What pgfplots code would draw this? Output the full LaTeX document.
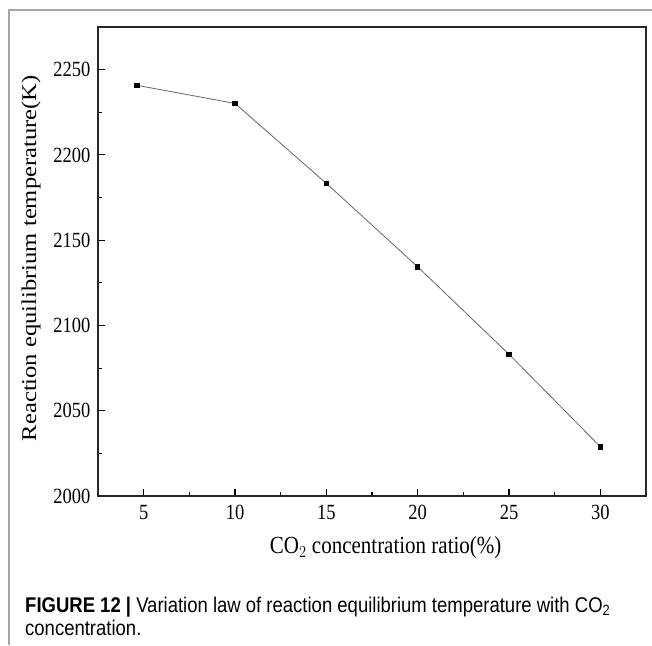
\documentclass[border=0pt]{standalone}
\usepackage{graphicx}
\usepackage{pgfplots}
\pgfplotsset{compat=1.18}
\usepackage{fontspec}
\setmainfont{Liberation Serif}
\newfontfamily\capfont{Liberation Sans}
\begin{document}
\begin{tikzpicture}
\useasboundingbox (0pt,0pt) rectangle (652pt,-645pt);
\draw[gray!70, line width=1.2pt] (9pt,-645pt) -- (9pt,-10pt) -- (652pt,-10pt);
\begin{axis}[
  at={(98pt,-496pt)}, anchor=origin,
  scale only axis, width=548pt, height=469pt,
  xmin=2.5, xmax=32.5, ymin=2000, ymax=2275,
  axis line style={line width=1.3pt, black!85},
  xtick={5,10,15,20,25,30},
  ytick={2000,2050,2100,2150,2200,2250},
  minor x tick num=1, minor y tick num=1,
  tick align=inside,
  xtick pos=bottom, ytick pos=left,
  major tick length=7pt, minor tick length=4pt,
  tick style={line width=1.1pt, black},
  /pgf/number format/assume math mode=true,
  /pgf/number format/1000 sep={},
  tick label style={font=\fontsize{18.5}{20}\selectfont},
  xticklabel={\scalebox{1}[1.17]{\pgfmathprintnumber{\tick}}},
  yticklabel={\scalebox{1}[1.17]{\pgfmathprintnumber{\tick}}},
  xticklabel style={yshift=-6pt},
  yticklabel style={xshift=-4pt},
  xlabel={\scalebox{1}[1.17]{CO$_2$ concentration ratio(\%)}},
  ylabel={\scalebox{1.17}[1]{Reaction equilibrium temperature(K)}},
  label style={font=\fontsize{21}{24}\selectfont},
  xlabel style={at={(axis description cs:0.525,-0.111)}, anchor=center},
  ylabel style={at={(axis description cs:-0.122,0.507)}, anchor=center},
]
\addplot[gray!80!black, line width=0.8pt, mark=square*, mark size=2.2pt,
  mark options={black, solid}] coordinates {
  (4.63,2240.8) (10,2230.2) (15,2183.3) (20,2134.4) (25,2083.1) (30,2028.9)
};
\end{axis}
\node[anchor=base west, inner sep=0, font=\capfont\fontsize{18.5}{20}\selectfont] at (25pt,-612pt)
  {\scalebox{1}[1.15]{\textbf{FIGURE 12 |} Variation law of reaction equilibrium temperature with CO\textsubscript{2}}};
\node[anchor=base west, inner sep=0, font=\capfont\fontsize{18.5}{20}\selectfont] at (25pt,-635pt)
  {\scalebox{1}[1.15]{concentration.}};
\end{tikzpicture}
\end{document}
